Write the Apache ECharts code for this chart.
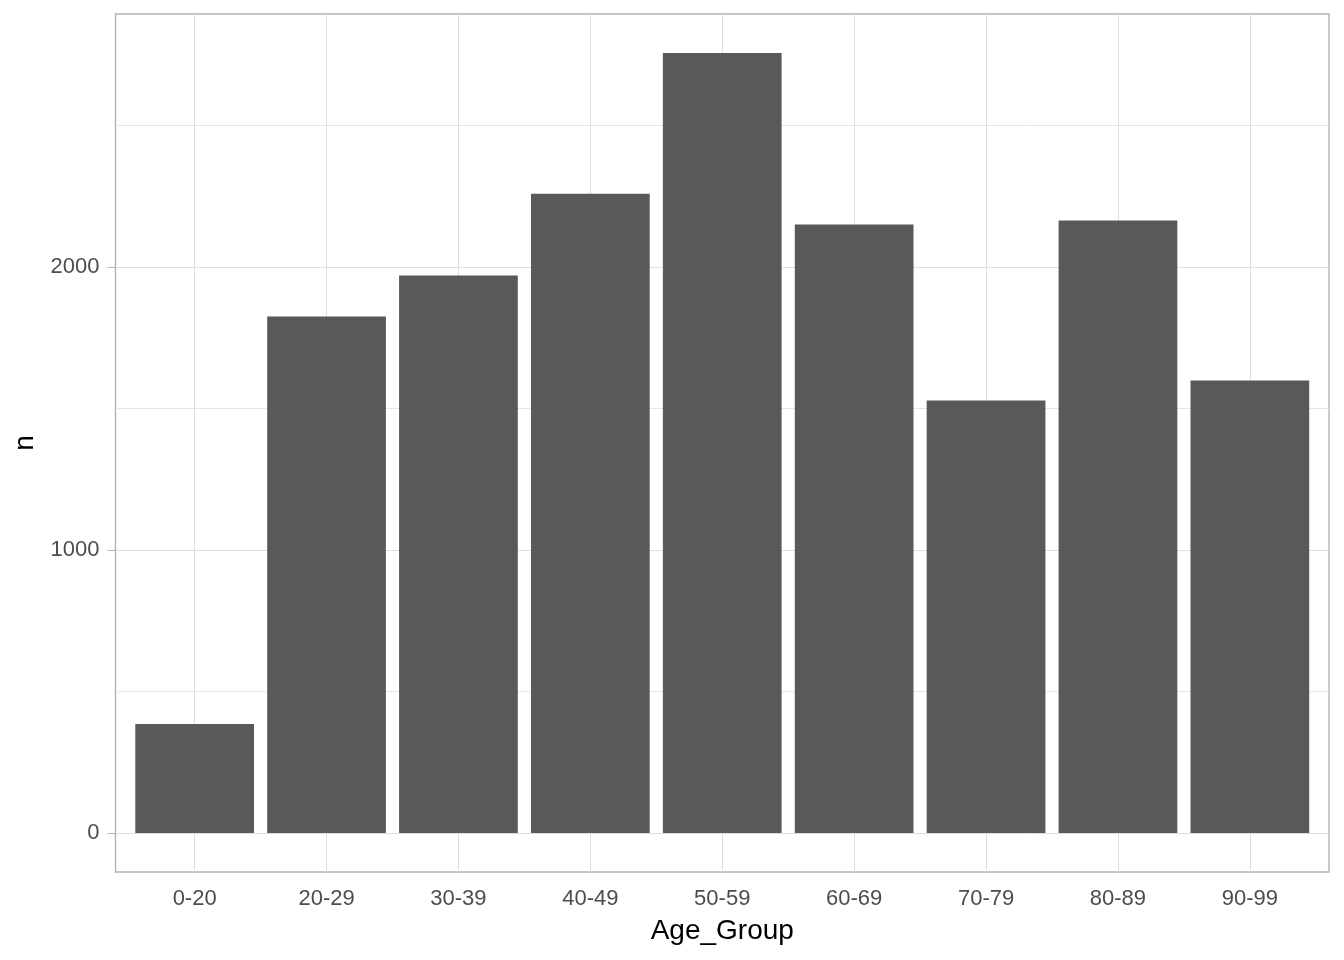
<!DOCTYPE html>
<html>
<head>
<meta charset="utf-8">
<script src="https://cdn.jsdelivr.net/npm/echarts@6/dist/echarts.min.js"></script>
<style>
html,body{margin:0;padding:0;background:#fff;}
#chart{width:1344px;height:960px;}
</style>
</head>
<body>
<div id="chart"></div>
<script>
const categories = ['0-20','20-29','30-39','40-49','50-59','60-69','70-79','80-89','90-99'];
const counts = [385, 1824, 1969, 2258, 2755, 2149, 1528, 2163, 1598];
const majorTicks = [0, 1000, 2000];
const minorTicks = [500, 1500, 2500];

const dataMax = Math.max(...counts);
const yMin = -0.05 * dataMax;
const yMax = dataMax * 1.05;

const FONT = '"Liberation Sans", Arial, sans-serif';
const panelLeft = 115.5, panelRight = 1329, panelTop = 14, panelBottom = 872;
const unit = (panelRight - panelLeft) / (categories.length - 1 + 1.2);
const innerLeft = panelLeft + 0.1 * unit;
const innerWidth = categories.length * unit;

const chart = echarts.init(document.getElementById('chart'));
chart.setOption({
  animation: false,
  backgroundColor: '#ffffff',
  grid: [
    { left: panelLeft, top: panelTop, width: panelRight - panelLeft, height: panelBottom - panelTop,
      show: true, borderColor: '#b3b3b3', borderWidth: 1.4, backgroundColor: 'transparent', containLabel: false },
    { left: innerLeft, top: panelTop, width: innerWidth, height: panelBottom - panelTop, containLabel: false }
  ],
  xAxis: [
    { type: 'value', gridIndex: 0, min: 0, max: 1, show: false },
    { type: 'category', gridIndex: 1, data: categories, boundaryGap: true,
      axisLine: { show: false },
      axisTick: { show: true, alignWithLabel: true, length: 8, lineStyle: { color: '#b3b3b3', width: 1 } },
      axisLabel: { color: '#4d4d4d', fontSize: 22, fontFamily: FONT, margin: 16, interval: 0 },
      splitLine: { show: false },
      name: 'Age_Group', nameLocation: 'middle', nameGap: 45,
      nameTextStyle: { color: '#000000', fontSize: 28, fontFamily: FONT }
    }
  ],
  yAxis: [
    { type: 'value', gridIndex: 0, min: yMin, max: yMax,
      axisLine: { show: false },
      axisTick: { show: true, length: 8, customValues: majorTicks, lineStyle: { color: '#b3b3b3', width: 1 } },
      axisLabel: { color: '#4d4d4d', fontSize: 22, fontFamily: FONT, margin: 16, customValues: majorTicks,
                   formatter: v => String(v) },
      splitLine: { show: true, lineStyle: { color: '#dedede', width: 1 } },
      name: 'n', nameLocation: 'middle', nameGap: 68,
      nameTextStyle: { color: '#000000', fontSize: 28, fontFamily: FONT }
    },
    { type: 'value', gridIndex: 0, min: yMin, max: yMax,
      axisLine: { show: false },
      axisTick: { show: false, customValues: minorTicks },
      axisLabel: { show: false, customValues: minorTicks },
      splitLine: { show: true, lineStyle: { color: '#e6e6e6', width: 1 } }
    },
    { type: 'value', gridIndex: 1, min: yMin, max: yMax, show: false }
  ],
  series: [
    { type: 'bar', xAxisIndex: 1, yAxisIndex: 2, data: counts, barWidth: '90%', z: 2,
      itemStyle: { color: '#595959' },
      silent: true,
      markLine: {
        z: 1, silent: true, symbol: 'none', animation: false,
        label: { show: false },
        lineStyle: { color: '#dedede', width: 1, type: 'solid' },
        data: categories.map(c => ({ xAxis: c }))
      }
    }
  ]
});
</script>
</body>
</html>
